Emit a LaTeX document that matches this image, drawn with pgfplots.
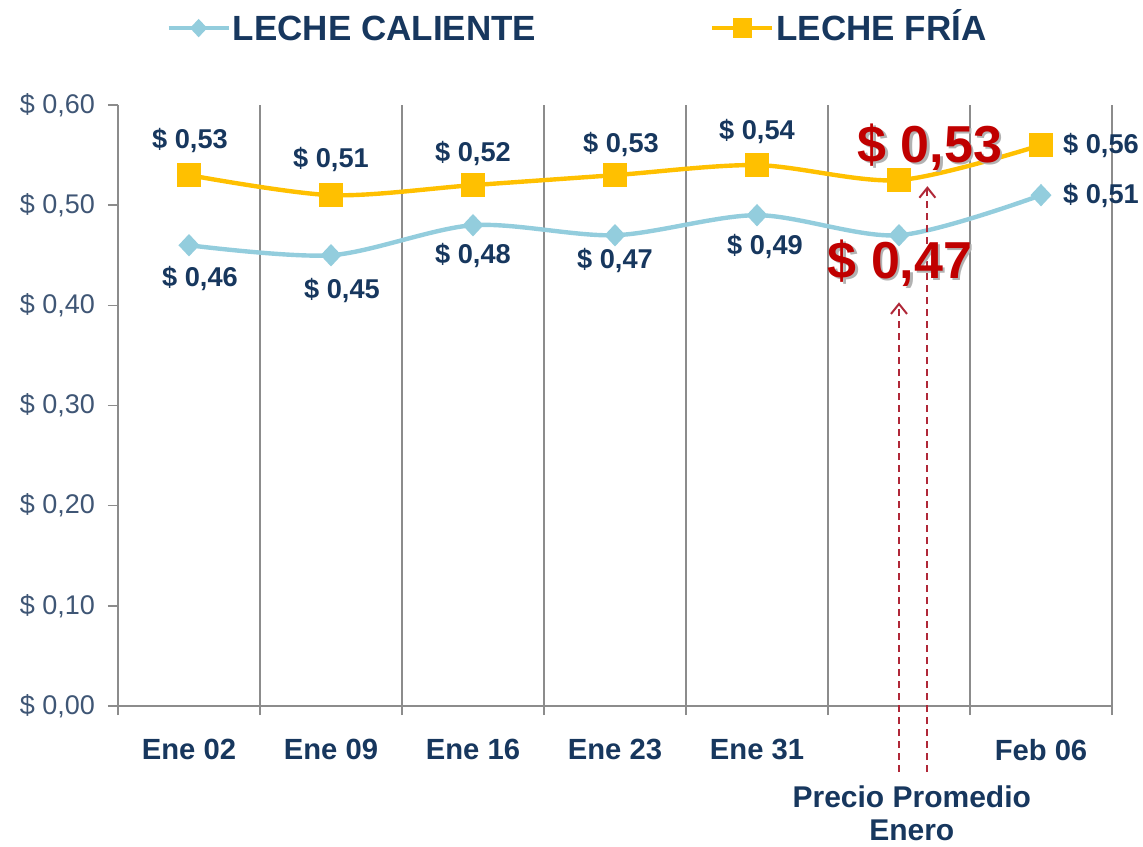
\documentclass[border=0pt]{standalone}
\usepackage{fontspec}
\setmainfont{Liberation Sans}
\usepackage{pgfplots}
\pgfplotsset{compat=1.18}
\usepackage{pgfplotstable}
\usetikzlibrary{arrows.meta}

\definecolor{navy}{HTML}{17375E}
\definecolor{ylab}{HTML}{3F5675}
\definecolor{caliente}{HTML}{93CDDD}
\definecolor{fria}{HTML}{FFC000}
\definecolor{rojo}{HTML}{C00000}
\definecolor{gridc}{HTML}{8C8C8C}
\definecolor{flecha}{HTML}{B02838}

% x y label label-offset(pt)
\pgfplotstableread{
x y lab dx dy
0 0.46 {\$ 0,46} 5.5 -16.5
1 0.45 {\$ 0,45} 5.5 -17.5
2 0.48 {\$ 0,48} 0 -15
3 0.47 {\$ 0,47} 0 -12.5
4 0.49 {\$ 0,49} 4 -15.5
5 0.47 {} 0 0
6 0.51 {\$ 0,51} 30 0
}\caliente

\pgfplotstableread{
x y lab dx dy
0 0.53 {\$ 0,53} 0.5 17.5
1 0.51 {\$ 0,51} 0 18
2 0.52 {\$ 0,52} 0 16
3 0.53 {\$ 0,53} 3 15.5
4 0.54 {\$ 0,54} 0 17
5 0.525 {} 0 0
6 0.56 {\$ 0,56} 30 0
}\fria

\begin{document}
\begin{tikzpicture}
\useasboundingbox (-59pt,-70pt) rectangle (512.5pt,353pt);
\begin{axis}[
  at={(0pt,0pt)}, anchor=south west,
  scale only axis, width=497pt, height=300.5pt,
  xmin=-0.5, xmax=6.5, ymin=0, ymax=0.6,
  enlargelimits=false, clip=false,
  axis x line=bottom, axis y line=left,
  axis line style={-, gridc, line width=0.75pt},
  tick align=outside,
  major tick length=5pt, minor tick length=4.5pt,
  every major x tick/.append style={draw=none},
  every tick/.append style={gridc, line width=0.75pt},
  xtick={0,1,2,3,4,5,6},
  xticklabels={Ene 02,Ene 09,Ene 16,Ene 23,Ene 31,,Feb 06},
  minor xtick={-0.5,0.5,1.5,2.5,3.5,4.5,5.5,6.5},
  xminorgrids, minor x grid style={gridc, line width=0.75pt},
  xticklabel style={font=\bfseries\fontsize{14.6}{16}\selectfont, text=navy, yshift=-8pt},
  ytick={0,0.1,0.2,0.3,0.4,0.5,0.6},
  yticklabels={{\$ 0,00},{\$ 0,10},{\$ 0,20},{\$ 0,30},{\$ 0,40},{\$ 0,50},{\$ 0,60}},
  yticklabel style={font=\fontsize{13.5}{16}\selectfont, text=ylab, xshift=-3pt},
  legend columns=2,
  legend style={at={(0.4623,1.128)}, anchor=center, draw=none, fill=none,
    font=\bfseries\fontsize{17.5}{20}\selectfont, text=navy,
    nodes={inner xsep=1pt, text height=12.5pt, text depth=0pt},
    /tikz/every even column/.append style={column sep=86pt}},
  legend image code/.code={\draw[mark repeat=2,mark phase=2,
      every mark/.append style={scale=0.75}]
    plot coordinates {(0pt,0pt) (15pt,0pt) (30pt,0pt)};},
  point meta=explicit symbolic,
  nodes near coords,
  visualization depends on={\thisrow{dx}\as\dx},
  visualization depends on={\thisrow{dy}\as\dy},
  every node near coord/.append style={anchor=center, xshift=\dx pt, yshift=\dy pt,
    font=\bfseries\fontsize{13.6}{15}\selectfont, text=navy},
]
\addplot[caliente, line width=2.2pt, smooth, tension=0.5,
  mark=diamond*, mark size=5pt, mark options={fill=caliente, draw=caliente, yscale=0.8}]
  table[x=x, y=y, meta=lab] {\caliente};
\addlegendentry{LECHE CALIENTE}
\addplot[fria, line width=2.2pt, smooth, tension=0.5,
  mark=square*, mark size=5pt, mark options={fill=fria, draw=fria}]
  table[x=x, y=y, meta=lab] {\fria};
\addlegendentry{LECHE FRÍA}

% flechas del precio promedio de enero
\draw[flecha, line width=1pt, dash pattern=on 3.5pt off 2.5pt,
  -{Straight Barb[length=5pt, width=8pt]}]
  (axis cs:5,-0.066) -- (axis cs:5,0.403);
\draw[flecha, line width=1pt, dash pattern=on 3.5pt off 2.5pt,
  -{Straight Barb[length=5pt, width=8pt]}]
  (axis cs:5.2,-0.066) -- (axis cs:5.2,0.519);

\node[text=black!30, font=\bfseries\fontsize{26}{28}\selectfont, xshift=1.2pt, yshift=-1.2pt]
  at (axis cs:5.218,0.558) {\$ 0,53};
\node[text=rojo, font=\bfseries\fontsize{26}{28}\selectfont]
  at (axis cs:5.218,0.558) {\$ 0,53};
\node[text=black!30, font=\bfseries\fontsize{26}{28}\selectfont, xshift=1.2pt, yshift=-1.2pt]
  at (axis cs:5.007,0.442) {\$ 0,47};
\node[text=rojo, font=\bfseries\fontsize{26}{28}\selectfont]
  at (axis cs:5.007,0.442) {\$ 0,47};

\node[text=navy, align=center, font=\bfseries\fontsize{15}{16.5}\selectfont]
  at (axis cs:5.09,-0.107) {Precio Promedio\\Enero};
\end{axis}
\end{tikzpicture}
\end{document}
